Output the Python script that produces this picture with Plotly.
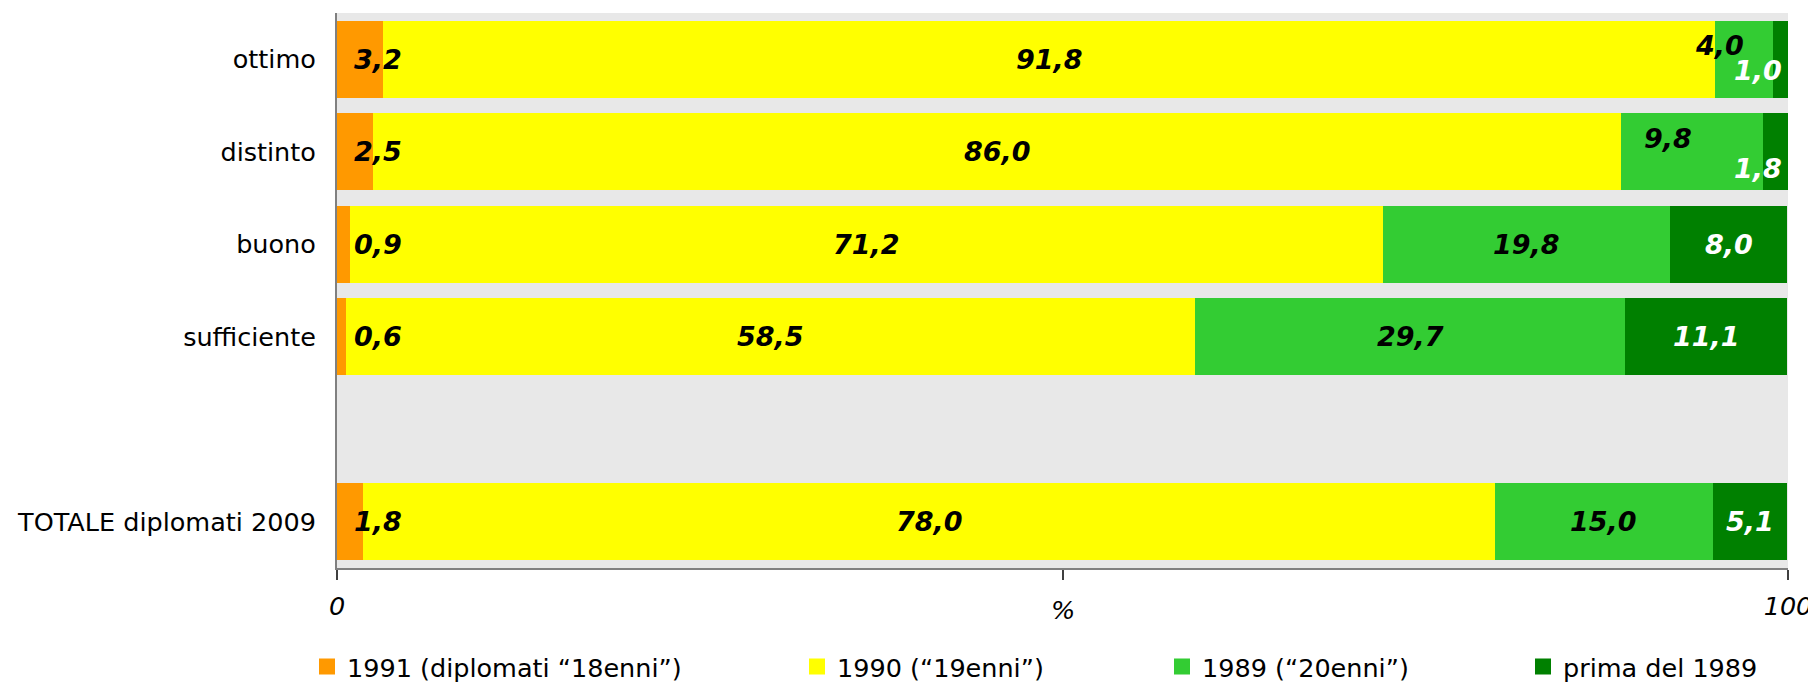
import plotly.graph_objects as go

categories = ["ottimo", "distinto", "buono", "sufficiente", "", "TOTALE diplomati 2009"]
series_names = ["1991 (diplomati \u201c18enni\u201d)", "1990 (\u201c19enni\u201d)", "1989 (\u201c20enni\u201d)", "prima del 1989"]
v1991 = [3.2, 2.5, 0.9, 0.6, None, 1.8]
v1990 = [91.8, 86.0, 71.2, 58.5, None, 78.0]
v1989 = [4.0, 9.8, 19.8, 29.7, None, 15.0]
vprima = [1.0, 1.8, 8.0, 11.1, None, 5.1]
x_ticks = [0, 50, 100]
x_ticktext = ["0", "", "100"]

series = [v1991, v1990, v1989, vprima]
colors = ["#FF9900", "#FFFF00", "#33CC33", "#008000"]
label_colors = ["black", "black", "black", "white"]

FONT = "DejaVu Sans"
TXT = 25.5
OFF = 8                      # default page body margin
W, H = 1816, 685
PL, PR, PT, PB = 337, 1788, 13, 568   # plot area in page pixels
ypos = list(range(len(categories)))

fig = go.Figure()
for i, (name, vals) in enumerate(zip(series_names, series)):
    fig.add_trace(go.Bar(
        y=ypos, x=vals, orientation="h", name=name,
        marker=dict(color=colors[i], line=dict(width=0)),
        showlegend=False, hoverinfo="x+name",
    ))

# legend entries (square symbols), each in its own legend to match spacing
legend_px = [317, 807, 1172, 1533]
for i, name in enumerate(series_names):
    lg = "legend" if i == 0 else f"legend{i+1}"
    fig.add_trace(go.Scatter(
        x=[None], y=[None], mode="markers", name=name,
        marker=dict(symbol="square", size=16, color=colors[i]),
        legend=lg, showlegend=True,
    ))

# label placement tweaks: (row, series) -> (kind, value, yshift, anchor)
tweaks = {
    (0, 2): ("dx", -1.7, 14, "center"),
    (1, 2): ("dx", -1.7, 13, "center"),
    (0, 3): ("abs", 99.7, -11, "right"),
    (1, 3): ("abs", 99.7, -17, "right"),
}

annotations = []
for r in range(len(categories)):
    cum = 0.0
    for s, vals in enumerate(series):
        v = vals[r]
        if v is None:
            continue
        x = cum + v / 2
        anchor = "center"
        ys = 0
        if s == 0:
            x, anchor = 1.0, "left"
        if (r, s) in tweaks:
            kind, val, ys, anchor = tweaks[(r, s)]
            x = x + val if kind == "dx" else val
        annotations.append(dict(
            x=x, y=r, xref="x", yref="y", text=f"{v:.1f}".replace(".", ","),
            showarrow=False, xanchor=anchor, yanchor="middle", yshift=ys,
            font=dict(family=FONT, size=27, color=label_colors[s], weight="bold", style="italic"),
        ))
        cum += v

# axis title "%" placed in the tick-label row
annotations.append(dict(
    x=0.5, y=0, xref="paper", yref="paper", text="%", showarrow=False,
    xanchor="center", yanchor="middle", yshift=-42,
    font=dict(family=FONT, size=TXT, color="black", style="italic"),
))

legends = {}
for i in range(4):
    key = "legend" if i == 0 else f"legend{i+1}"
    legends[key] = dict(
        xref="container", yref="container",
        x=(legend_px[i] - 10 - OFF) / W, y=1 - (667 - OFF) / H,
        xanchor="left", yanchor="middle",
        orientation="h", bgcolor="rgba(0,0,0,0)",
        font=dict(family=FONT, size=TXT, color="black"),
        itemwidth=30,
    )

fig.update_layout(
    width=W, height=H,
    margin=dict(l=PL - OFF, r=W + OFF - PR, t=PT - OFF, b=H + OFF - PB, autoexpand=False),
    paper_bgcolor="white", plot_bgcolor="#E8E8E8",
    barmode="stack", bargap=0.17,
    annotations=annotations,
    font=dict(family=FONT, size=TXT, color="black"),
    **legends,
)
fig.update_xaxes(
    range=[0, 100], tickvals=x_ticks, ticktext=x_ticktext,
    showgrid=False, zeroline=False, automargin=False,
    showline=True, linecolor="#808080", linewidth=2,
    ticks="outside", ticklen=10, tickwidth=1.5, tickcolor="#404040",
    tickfont=dict(family=FONT, size=TXT, color="black", style="italic"),
    ticklabelstandoff=4,
)
fig.update_yaxes(
    tickvals=ypos, ticktext=categories, range=[len(categories) - 0.5, -0.5],
    showgrid=False, zeroline=False, automargin=False,
    showline=True, linecolor="#808080", linewidth=2,
    ticks="", ticklabelstandoff=14,
    tickfont=dict(family=FONT, size=TXT, color="black"),
)

fig.write_html("out.html")
